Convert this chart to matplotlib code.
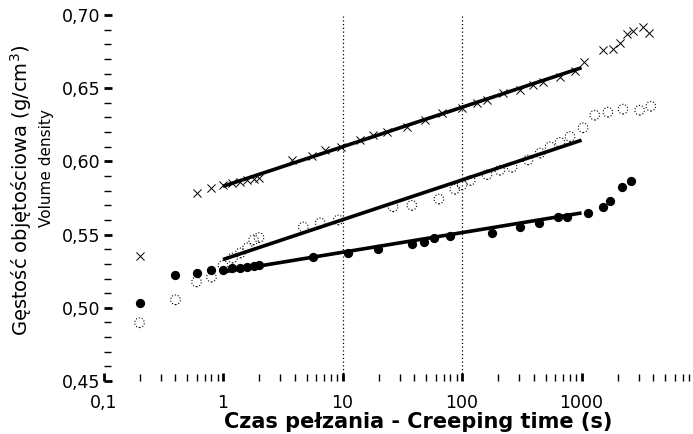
import matplotlib
matplotlib.use("Agg")
import matplotlib.pyplot as plt
from matplotlib.ticker import FixedLocator, NullFormatter

plt.rcParams["font.family"] = ["DejaVu Sans"]

# creeping time (s) and volume density (g/cm3)
cross_t = [0.2, 0.6, 0.8, 1.0, 1.2, 1.4, 1.6, 1.8, 2.0, 3.8, 5.5, 7.1, 9.7, 14, 18,
           23.5, 34.7, 49, 68, 100, 134, 162, 220, 306, 390, 475, 660, 880, 1050,
           1500, 1830, 2100, 2420, 2700, 3270, 3660]
cross_y = [0.5355, 0.5784, 0.5818, 0.584, 0.585, 0.586, 0.587, 0.588, 0.589, 0.601,
           0.604, 0.6077, 0.610, 0.6145, 0.618, 0.620, 0.6234, 0.628, 0.633, 0.6364,
           0.6398, 0.642, 0.6466, 0.649, 0.652, 0.654, 0.6575, 0.662, 0.668, 0.676,
           0.677, 0.681, 0.687, 0.689, 0.692, 0.6875]

circle_t = [0.2, 0.4, 0.6, 0.8, 1.0, 1.2, 1.4, 1.6, 1.8, 2.0, 4.7, 6.5, 9.2, 26.5,
            38, 64, 87, 100, 117, 162, 207, 262, 356, 450, 545, 660, 800, 1030,
            1290, 1660, 2220, 3060, 3800]
circle_y = [0.4898, 0.5055, 0.5177, 0.521, 0.529, 0.534, 0.5375, 0.541, 0.5464,
            0.548, 0.5552, 0.558, 0.560, 0.569, 0.570, 0.5743, 0.581, 0.584, 0.587,
            0.591, 0.594, 0.596, 0.601, 0.6057, 0.610, 0.613, 0.617, 0.623, 0.6316,
            0.6336, 0.6357, 0.635, 0.6377]

dot_t = [0.2, 0.4, 0.6, 0.8, 1.0, 1.2, 1.4, 1.6, 1.8, 2.0, 5.67, 11.1, 19.8, 38,
         48, 58, 79, 178, 306, 441, 635, 758, 1130, 1515, 1730, 2180, 2590]
dot_y = [0.5034, 0.5225, 0.5239, 0.526, 0.5255, 0.527, 0.5275, 0.528, 0.5285,
         0.529, 0.5348, 0.5375, 0.540, 0.5436, 0.545, 0.5477, 0.549, 0.5511,
         0.5552, 0.558, 0.562, 0.562, 0.5648, 0.569, 0.573, 0.5825, 0.5866]

# straight log-fits drawn from 1 s to 1000 s
fit_t = [1, 1000]
fit_cross = [0.583, 0.664]
fit_circle = [0.533, 0.6145]
fit_dot = [0.5245, 0.5648]

marked_t = [10, 100]

xticks = [0.1, 1, 10, 100, 1000]
xticklabels = ["0,1", "1", "10", "100", "1000"]
yticks = [0.45, 0.50, 0.55, 0.60, 0.65, 0.70]
yticklabels = ["0,45", "0,50", "0,55", "0,60", "0,65", "0,70"]


fig = plt.figure(figsize=(6.93, 4.34), dpi=100)
ax = fig.add_axes([0.1494, 0.1221, 0.8455, 0.8433])
ax.set_xscale("log")
ax.set_xlim(0.1, 8000)
ax.set_ylim(0.45, 0.70)
for s in ax.spines.values():
    s.set_visible(False)

for t in marked_t:
    ax.axvline(t, color="k", lw=0.9, ls=(0, (1, 2)), zorder=1)

for fy in (fit_cross, fit_circle, fit_dot):
    ax.plot(fit_t, fy, color="k", lw=2.6, solid_capstyle="butt", zorder=2)

ax.scatter(cross_t, cross_y, marker="x", s=34, color="k", linewidths=0.7, zorder=3)
ax.scatter(circle_t, circle_y, marker="o", s=48, facecolors="none",
           edgecolors="k", linewidths=0.8, linestyle=":", zorder=3)
ax.scatter(dot_t, dot_y, marker="o", s=32, color="k", zorder=4)

ax.xaxis.set_major_locator(FixedLocator(xticks))
ax.set_xticklabels(xticklabels)
minors = [m * 10.0 ** e for e in range(-1, 4) for m in range(2, 10)]
ax.xaxis.set_minor_locator(FixedLocator(minors))
ax.xaxis.set_minor_formatter(NullFormatter())
ax.set_yticks(yticks)
ax.set_yticklabels(yticklabels)
ax.yaxis.set_minor_locator(FixedLocator([0.45 + 0.01 * i for i in range(26)]))

ax.tick_params(which="both", direction="in", colors="k")
ax.tick_params(which="major", length=6, width=2)
ax.tick_params(which="minor", length=5, width=1)
ax.tick_params(axis="x", which="major", pad=9, labelsize=12.5)
ax.tick_params(axis="y", which="major", pad=2.5, labelsize=12.5)

fig.text(418 / 693, 1 - 422 / 434, "Czas pełzania - Creeping time (s)",
         ha="center", va="center", fontsize=15, fontweight="bold")
fig.text(21 / 693, 1 - 190 / 434, r"Gęstość objętościowa (g/cm$^3$)",
         rotation=90, ha="center", va="center", fontsize=14)
fig.text(46 / 693, 1 - 168 / 434, "Volume density",
         rotation=90, ha="center", va="center", fontsize=11)

fig.savefig("out.png", dpi=100)
